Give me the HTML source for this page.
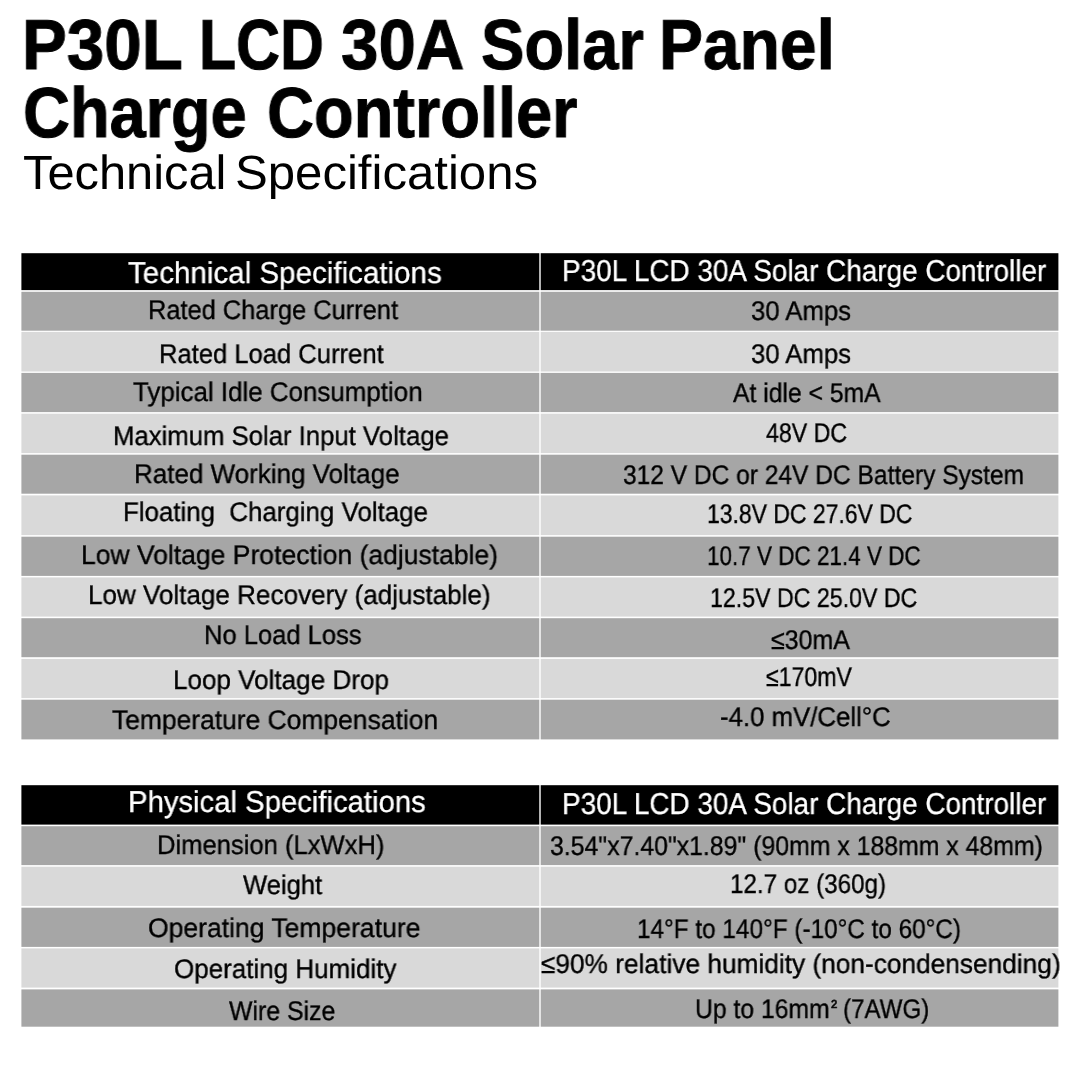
<!DOCTYPE html>
<html lang="en"><head><meta charset="utf-8"><title>P30L LCD 30A Solar Panel Charge Controller - Technical Specifications</title>
<style>
html,body{margin:0;padding:0;background:#fff;}
body{width:1080px;height:1080px;position:relative;overflow:hidden;font-family:"Liberation Sans",sans-serif;color:#000;}
.bg{position:absolute;left:0;top:0;}
.t{position:absolute;white-space:nowrap;line-height:1;transform-origin:0 0;will-change:transform;text-rendering:geometricPrecision;}
</style></head><body>
<svg class="bg" width="1080" height="1080" viewBox="0 0 1080 1080">
<rect x="21.4" y="253.2" width="517.9" height="36.9" fill="#000"/>
<rect x="540.7" y="253.2" width="517.7" height="36.9" fill="#000"/>
<rect x="21.4" y="291.8" width="517.9" height="38.9" fill="#a6a6a6"/>
<rect x="540.7" y="291.8" width="517.7" height="38.9" fill="#a6a6a6"/>
<rect x="21.4" y="331.9" width="517.9" height="39.6" fill="#d9d9d9"/>
<rect x="540.7" y="331.9" width="517.7" height="39.6" fill="#d9d9d9"/>
<rect x="21.4" y="372.9" width="517.9" height="39.2" fill="#a6a6a6"/>
<rect x="540.7" y="372.9" width="517.7" height="39.2" fill="#a6a6a6"/>
<rect x="21.4" y="413.7" width="517.9" height="39.4" fill="#d9d9d9"/>
<rect x="540.7" y="413.7" width="517.7" height="39.4" fill="#d9d9d9"/>
<rect x="21.4" y="454.7" width="517.9" height="39.0" fill="#a6a6a6"/>
<rect x="540.7" y="454.7" width="517.7" height="39.0" fill="#a6a6a6"/>
<rect x="21.4" y="495.4" width="517.9" height="39.7" fill="#d9d9d9"/>
<rect x="540.7" y="495.4" width="517.7" height="39.7" fill="#d9d9d9"/>
<rect x="21.4" y="536.7" width="517.9" height="39.2" fill="#a6a6a6"/>
<rect x="540.7" y="536.7" width="517.7" height="39.2" fill="#a6a6a6"/>
<rect x="21.4" y="577.4" width="517.9" height="39.2" fill="#d9d9d9"/>
<rect x="540.7" y="577.4" width="517.7" height="39.2" fill="#d9d9d9"/>
<rect x="21.4" y="618.2" width="517.9" height="39.0" fill="#a6a6a6"/>
<rect x="540.7" y="618.2" width="517.7" height="39.0" fill="#a6a6a6"/>
<rect x="21.4" y="658.9" width="517.9" height="39.2" fill="#d9d9d9"/>
<rect x="540.7" y="658.9" width="517.7" height="39.2" fill="#d9d9d9"/>
<rect x="21.4" y="699.7" width="517.9" height="39.7" fill="#a6a6a6"/>
<rect x="540.7" y="699.7" width="517.7" height="39.7" fill="#a6a6a6"/>
<rect x="21.4" y="785.2" width="517.9" height="39.4" fill="#000"/>
<rect x="540.7" y="785.2" width="517.7" height="39.4" fill="#000"/>
<rect x="21.4" y="826.2" width="517.9" height="38.9" fill="#a6a6a6"/>
<rect x="540.7" y="826.2" width="517.7" height="38.9" fill="#a6a6a6"/>
<rect x="21.4" y="866.7" width="517.9" height="39.2" fill="#d9d9d9"/>
<rect x="540.7" y="866.7" width="517.7" height="39.2" fill="#d9d9d9"/>
<rect x="21.4" y="907.7" width="517.9" height="39.2" fill="#a6a6a6"/>
<rect x="540.7" y="907.7" width="517.7" height="39.2" fill="#a6a6a6"/>
<rect x="21.4" y="948.4" width="517.9" height="39.2" fill="#d9d9d9"/>
<rect x="540.7" y="948.4" width="517.7" height="39.2" fill="#d9d9d9"/>
<rect x="21.4" y="989.4" width="517.9" height="37.3" fill="#a6a6a6"/>
<rect x="540.7" y="989.4" width="517.7" height="37.3" fill="#a6a6a6"/>
</svg>
<div class="t" style="left:21.68px;top:11.20px;font-size:70.9px;transform:scale(0.9482,1.0000);font-weight:700;-webkit-text-stroke:1.0px #000;">P30L</div>
<div class="t" style="left:199.30px;top:11.20px;font-size:70.9px;transform:scale(0.8569,1.0000);font-weight:700;-webkit-text-stroke:1.0px #000;">LCD</div>
<div class="t" style="left:341.23px;top:11.20px;font-size:70.9px;transform:scale(0.9490,1.0000);font-weight:700;-webkit-text-stroke:1.0px #000;">30A</div>
<div class="t" style="left:481.32px;top:11.20px;font-size:70.9px;transform:scale(0.9180,1.0000);font-weight:700;-webkit-text-stroke:1.0px #000;">Solar</div>
<div class="t" style="left:659.05px;top:11.20px;font-size:70.9px;transform:scale(0.9298,1.0000);font-weight:700;-webkit-text-stroke:1.0px #000;">Panel</div>
<div class="t" style="left:23.03px;top:79.30px;font-size:70.9px;transform:scale(0.9160,1.0000);font-weight:700;-webkit-text-stroke:1.0px #000;">Charge</div>
<div class="t" style="left:266.93px;top:79.30px;font-size:70.9px;transform:scale(0.9166,1.0000);font-weight:700;-webkit-text-stroke:1.0px #000;">Controller</div>
<div class="t" style="left:22.58px;top:150.20px;font-size:48px;transform:scale(1.0166,1.0000);">Technical</div>
<div class="t" style="left:235.25px;top:150.20px;font-size:48px;transform:scale(1.0233,1.0000);">Specifications</div>
<div class="t" style="left:127.85px;top:258.85px;font-size:30.2px;transform:scale(0.9790,1.0000);color:#fff;-webkit-text-stroke:0.3px #fff;">Technical Specifications</div>
<div class="t" style="left:562.29px;top:256.95px;font-size:30.2px;transform:scale(0.9241,1.0000);color:#fff;-webkit-text-stroke:0.3px #fff;">P30L LCD 30A Solar Charge Controller</div>
<div class="t" style="left:148.28px;top:297.43px;font-size:27px;transform:scale(0.9414,1.0000);-webkit-text-stroke:0.35px #000;">Rated Charge Current</div>
<div class="t" style="left:750.91px;top:298.12px;font-size:27px;transform:scale(0.9527,1.0000);-webkit-text-stroke:0.35px #000;">30 Amps</div>
<div class="t" style="left:158.97px;top:341.43px;font-size:27px;transform:scale(0.9474,1.0000);-webkit-text-stroke:0.35px #000;">Rated Load Current</div>
<div class="t" style="left:750.91px;top:341.43px;font-size:27px;transform:scale(0.9527,1.0000);-webkit-text-stroke:0.35px #000;">30 Amps</div>
<div class="t" style="left:132.87px;top:379.43px;font-size:27px;transform:scale(0.9602,1.0000);-webkit-text-stroke:0.35px #000;">Typical Idle Consumption</div>
<div class="t" style="left:732.86px;top:379.82px;font-size:27px;transform:scale(0.9154,1.0000);-webkit-text-stroke:0.35px #000;">At idle &lt; 5mA</div>
<div class="t" style="left:113.26px;top:423.12px;font-size:27px;transform:scale(0.9522,1.0000);-webkit-text-stroke:0.35px #000;">Maximum Solar Input Voltage</div>
<div class="t" style="left:765.85px;top:419.82px;font-size:27px;transform:scale(0.8581,1.0000);-webkit-text-stroke:0.35px #000;">48V DC</div>
<div class="t" style="left:133.54px;top:461.43px;font-size:27px;transform:scale(0.9633,1.0000);-webkit-text-stroke:0.35px #000;">Rated Working Voltage</div>
<div class="t" style="left:622.55px;top:462.43px;font-size:27px;transform:scale(0.9088,1.0000);-webkit-text-stroke:0.35px #000;">312 V DC or 24V DC Battery System</div>
<div class="t" style="left:123.25px;top:498.83px;font-size:27px;transform:scale(0.9580,1.0000);-webkit-text-stroke:0.35px #000;">Floating  Charging Voltage</div>
<div class="t" style="left:707.45px;top:500.83px;font-size:27px;transform:scale(0.8506,1.0000);-webkit-text-stroke:0.35px #000;">13.8V DC 27.6V DC</div>
<div class="t" style="left:80.51px;top:542.42px;font-size:27px;transform:scale(0.9817,1.0000);-webkit-text-stroke:0.35px #000;">Low Voltage Protection (adjustable)</div>
<div class="t" style="left:707.48px;top:543.12px;font-size:27px;transform:scale(0.8331,1.0000);-webkit-text-stroke:0.35px #000;">10.7 V DC 21.4 V DC</div>
<div class="t" style="left:88.24px;top:582.42px;font-size:27px;transform:scale(0.9648,1.0000);-webkit-text-stroke:0.35px #000;">Low Voltage Recovery (adjustable)</div>
<div class="t" style="left:710.13px;top:584.83px;font-size:27px;transform:scale(0.8585,1.0000);-webkit-text-stroke:0.35px #000;">12.5V DC 25.0V DC</div>
<div class="t" style="left:204.27px;top:622.42px;font-size:27px;transform:scale(0.9466,1.0000);-webkit-text-stroke:0.35px #000;">No Load Loss</div>
<div class="t" style="left:770.86px;top:627.12px;font-size:27px;transform:scale(0.9253,1.0000);-webkit-text-stroke:0.35px #000;">≤30mA</div>
<div class="t" style="left:173.24px;top:667.12px;font-size:27px;transform:scale(0.9651,1.0000);-webkit-text-stroke:0.35px #000;">Loop Voltage Drop</div>
<div class="t" style="left:766.15px;top:664.12px;font-size:27px;transform:scale(0.8569,1.0000);-webkit-text-stroke:0.35px #000;">≤170mV</div>
<div class="t" style="left:112.47px;top:707.42px;font-size:27px;transform:scale(0.9786,1.0000);-webkit-text-stroke:0.35px #000;">Temperature Compensation</div>
<div class="t" style="left:720.21px;top:703.83px;font-size:27px;transform:scale(0.9550,1.0000);-webkit-text-stroke:0.35px #000;">-4.0 mV/Cell°C</div>
<div class="t" style="left:128.21px;top:787.85px;font-size:30.2px;transform:scale(0.9695,1.0000);color:#fff;-webkit-text-stroke:0.3px #fff;">Physical Specifications</div>
<div class="t" style="left:562.29px;top:790.15px;font-size:30.2px;transform:scale(0.9241,1.0000);color:#fff;-webkit-text-stroke:0.3px #fff;">P30L LCD 30A Solar Charge Controller</div>
<div class="t" style="left:156.57px;top:832.42px;font-size:27px;transform:scale(0.9477,1.0000);-webkit-text-stroke:0.35px #000;">Dimension (LxWxH)</div>
<div class="t" style="left:550.24px;top:833.12px;font-size:27px;transform:scale(0.9195,1.0000);-webkit-text-stroke:0.35px #000;">3.54"x7.40"x1.89" (90mm x 188mm x 48mm)</div>
<div class="t" style="left:243.47px;top:872.42px;font-size:27px;transform:scale(0.9479,1.0000);-webkit-text-stroke:0.35px #000;">Weight</div>
<div class="t" style="left:730.06px;top:871.42px;font-size:27px;transform:scale(0.8969,1.0000);-webkit-text-stroke:0.35px #000;">12.7 oz (360g)</div>
<div class="t" style="left:148.49px;top:914.83px;font-size:27px;transform:scale(0.9826,1.0000);-webkit-text-stroke:0.35px #000;">Operating Temperature</div>
<div class="t" style="left:637.36px;top:916.42px;font-size:27px;transform:scale(0.9006,1.0000);-webkit-text-stroke:0.35px #000;">14°F to 140°F (-10°C to 60°C)</div>
<div class="t" style="left:173.51px;top:956.42px;font-size:27px;transform:scale(0.9629,1.0000);-webkit-text-stroke:0.35px #000;">Operating Humidity</div>
<div class="t" style="left:541.17px;top:951.42px;font-size:27px;transform:scale(0.9729,1.0000);-webkit-text-stroke:0.35px #000;">≤90% relative humidity (non-condensending)</div>
<div class="t" style="left:229.46px;top:998.12px;font-size:27px;transform:scale(0.9203,1.0000);-webkit-text-stroke:0.35px #000;">Wire Size</div>
<div class="t" style="left:694.93px;top:996.12px;font-size:27px;transform:scale(0.9158,1.0000);-webkit-text-stroke:0.35px #000;">Up to 16mm</div>
<div class="t" style="left:831.04px;top:999.75px;font-size:11.5px;transform:scale(0.9686,1.0000);-webkit-text-stroke:0.7px #000;">2</div>
<div class="t" style="left:843.16px;top:996.12px;font-size:27px;transform:scale(0.8940,1.0000);-webkit-text-stroke:0.35px #000;">(7AWG)</div>
</body></html>
